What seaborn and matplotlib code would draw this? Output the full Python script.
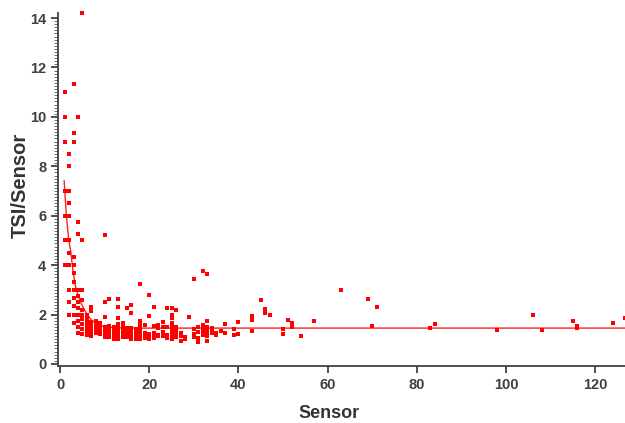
import numpy as np
import pandas as pd
import seaborn as sns
import matplotlib
matplotlib.use("Agg")
from matplotlib import pyplot as plt
from matplotlib.ticker import FixedLocator, NullLocator

# sensor count per point, and the TSI/Sensor ratio
sensor = [1]*7 + [2]*11 + [3]*12 + [4]*11 + [5]*10 + [6]*6 + [7]*7 + [8]*5 + [9]*5 + [10]*8 \
    + [11]*7 + [12]*7 + [13]*10 + [14]*7 + [15]*7 + [16]*7 + [17]*5 + [18]*9 + [19]*4 + [20]*6 \
    + [21]*5 + [22]*4 + [23]*4 + [24]*4 + [25]*9 + [26]*5 + [27]*3 + [28]*2 + [29] + [30]*4 \
    + [31]*4 + [32]*5 + [33]*7 + [34]*3 + [35]*2 + [36] + [37]*2 + [39]*2 + [40]*2 + [43]*3 \
    + [45, 46, 46, 47, 50, 50, 51, 52, 52, 54, 57, 63, 69, 70, 71, 83, 84, 98, 106, 108,
       115, 116, 116, 124, 126.6]
ratio = [4, 5, 6, 7, 9, 10, 11,
         2, 2.5, 3, 4, 4.5, 5, 6, 6.5, 7, 8, 8.5,
         1.67, 2, 2.33, 2.67, 3, 3.33, 3.67, 4, 4.33, 9, 9.33, 11.33,
         1.25, 1.5, 1.75, 2.0, 2.25, 2.5, 2.75, 3.0, 5.25, 5.75, 10.0,
         1.2, 1.4, 1.6, 1.8, 2.0, 2.2, 2.6, 3.0, 5.0, 14.2,
         1.17, 1.33, 1.5, 1.67, 1.83, 2.0,
         1.14, 1.29, 1.43, 1.57, 1.71, 2.14, 2.29,
         1.25, 1.38, 1.5, 1.62, 1.75,
         1.22, 1.33, 1.44, 1.56, 1.67,
         1.1, 1.2, 1.3, 1.4, 1.5, 1.9, 2.5, 5.2,
         1.09, 1.18, 1.27, 1.36, 1.45, 1.55, 2.64,
         1.0, 1.08, 1.17, 1.25, 1.33, 1.42, 1.5,
         1.0, 1.08, 1.15, 1.31, 1.46, 1.54, 1.62, 1.85, 2.31, 2.62,
         1.07, 1.14, 1.21, 1.29, 1.36, 1.5, 1.64,
         1.07, 1.2, 1.27, 1.33, 1.4, 1.47, 2.27,
         1.0, 1.13, 1.25, 1.31, 1.44, 2.06, 2.38,
         1.0, 1.12, 1.24, 1.35, 1.41,
         1.0, 1.11, 1.22, 1.33, 1.39, 1.5, 1.61, 1.72, 3.22,
         1.05, 1.16, 1.26, 1.58,
         1.0, 1.05, 1.1, 1.2, 1.95, 2.8,
         1.05, 1.14, 1.24, 1.52, 2.29,
         1.14, 1.18, 1.45, 1.59,
         1.13, 1.3, 1.48, 1.7,
         1.04, 1.17, 1.5, 2.25,
         1.0, 1.12, 1.24, 1.4, 1.52, 1.64, 1.84, 2.0, 2.28,
         1.08, 1.23, 1.38, 1.5, 2.19,
         0.93, 1.15, 1.26,
         1.0, 1.07,
         1.9,
         1.1, 1.23, 1.43, 3.43,
         0.9, 1.06, 1.29, 1.48,
         1.16, 1.25, 1.41, 1.56, 3.78,
         0.94, 1.12, 1.24, 1.36, 1.48, 1.73, 3.64,
         1.26, 1.35, 1.47,
         1.17, 1.26,
         1.33,
         1.27, 1.62,
         1.18, 1.41,
         1.2, 1.7,
         1.35, 1.77, 1.95,
         2.58, 2.07, 2.22, 1.96, 1.2, 1.4, 1.76, 1.5, 1.67, 1.15, 1.72, 2.98, 2.62, 1.53, 2.31,
         1.45, 1.62, 1.37, 1.98, 1.37, 1.74, 1.47, 1.52, 1.66, 1.84]

# fitted decay curve
fit_x = [0.9, 1.4, 1.95, 2.4, 2.9, 3.4, 4.0, 4.8, 5.9, 7.0, 8.5, 10.0, 13.0, 18.0, 127.0]
fit_y = [7.42, 6.0, 5.0, 4.53, 3.72, 3.19, 2.78, 2.42, 2.05, 1.78, 1.58, 1.5, 1.46, 1.45, 1.45]

df = pd.DataFrame({'Sensor': sensor, 'TSI/Sensor': ratio})

sns.set_style("ticks")
plt.rcParams['font.family'] = ['Liberation Sans', 'DejaVu Sans']
plt.rcParams['ytick.minor.visible'] = True

fig = plt.figure(figsize=(6.25, 4.23), dpi=100)
ax = fig.add_axes([0.093, 0.135, 0.907, 0.834])

sns.lineplot(x=fit_x, y=fit_y, sort=False, estimator=None, color='#ff2020', linewidth=1.0, ax=ax)
sns.scatterplot(data=df, x='Sensor', y='TSI/Sensor', marker='s', s=5, color='#ff0000',
                linewidth=0, ax=ax, zorder=3, clip_on=False)

ax.set_xlim(-0.45, 126.7)
ax.set_ylim(-0.08, 14.2)
ax.set_xticks([0, 20, 40, 60, 80, 100, 120])
ax.set_yticks([0, 2, 4, 6, 8, 10, 12, 14])
ax.yaxis.set_minor_locator(FixedLocator(np.arange(0, 14.01, 0.125)))
ax.xaxis.set_minor_locator(NullLocator())

sns.despine(ax=ax)
for s in ['left', 'bottom']:
    ax.spines[s].set_color('#404040')
    ax.spines[s].set_linewidth(1.3)
ax.tick_params(axis='both', which='major', direction='out', length=5, width=1.3,
               color='#404040', labelcolor='#404040', labelsize=10.5)
ax.tick_params(axis='y', which='minor', left=True, direction='out', length=3, width=0.6,
               color='#505050')
for lab in ax.get_xticklabels() + ax.get_yticklabels():
    lab.set_fontweight('bold')

ax.set_xlabel('Sensor', fontsize=13, fontweight='bold', color='#333333')
ax.set_ylabel('TSI/Sensor', fontsize=14.5, fontweight='bold', color='#333333')
ax.xaxis.set_label_coords(0.478, -0.11)
ax.yaxis.set_label_coords(-0.05, 0.513)

plt.savefig('out.png', dpi=100)
